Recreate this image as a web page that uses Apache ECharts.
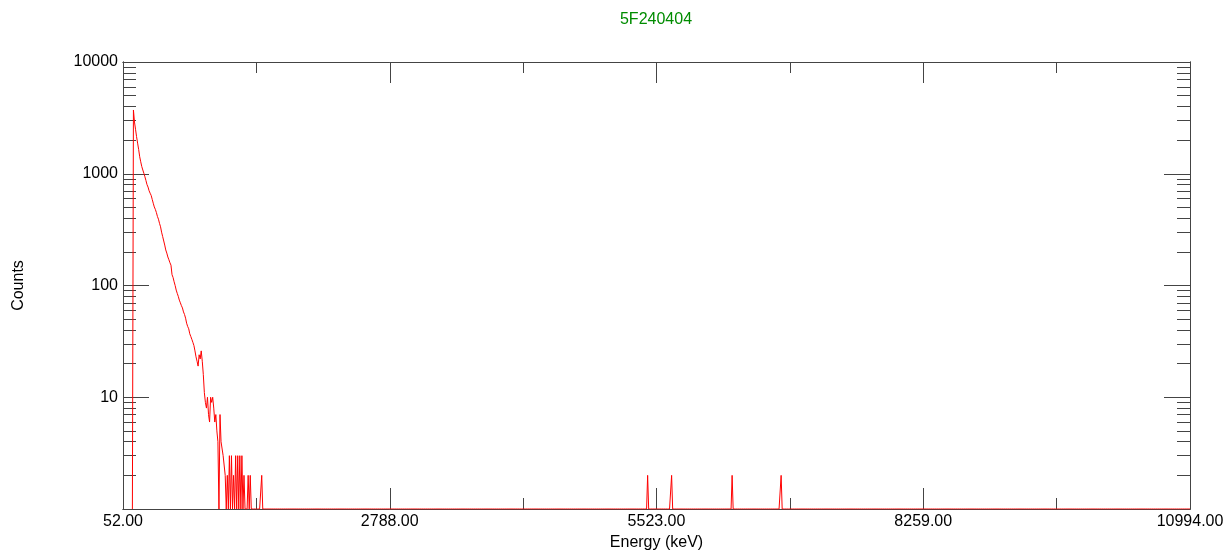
<!DOCTYPE html>
<html>
<head>
<meta charset="utf-8">
<title>5F240404</title>
<script src="https://cdn.jsdelivr.net/npm/echarts@6/dist/echarts.min.js"></script>
<style>
  html, body { margin: 0; padding: 0; background: #ffffff; overflow: hidden; }
  #chart { width: 1230px; height: 552px; }
</style>
</head>
<body>
<div id="chart"></div>
<script>
// Spectrum 5F240404: counts per channel, log-scaled.
const titleText = '5F240404';
const xAxisTitle = 'Energy (keV)';
const yAxisTitle = 'Counts';

// Energy calibration of the 1024-channel spectrum.
const channelCount = 1024;
const energyMin = 52;
const energyMax = 10994;

// Counts of the low-energy continuum, starting at channel 9.
const firstChannel = 9;
const lowCounts = [
  0, 3720, 2900, 2500, 2150, 1880, 1650, 1420, 1280, 1160,
  1080, 1010, 940, 870, 800, 760, 705, 670, 640, 590,
  545, 505, 480, 450, 415, 392, 360, 335, 300, 275,
  270, 230, 208, 195, 180, 170, 160, 152, 125, 118,
  108, 100, 91, 85, 80, 74, 70, 66, 63, 58,
  55, 51, 46, 43, 41, 37, 35, 33, 31, 29,
  26, 23, 21, 19, 24, 22, 26, 21, 16, 11,
  9, 8, 10, 7, 6, 10, 9, 10, 8, 6,
  7, 5, 4, 0, 7, 4, 4, 3, 3, 2,
  1, 2, 1, 3, 1, 3, 1, 2, 0, 3,
  1, 3, 0, 3, 1, 3, 0, 2, 0, 1,
  0, 2, 1, 2, 0, 1, 0, 0, 1, 0,
  0, 1, 0, 0, 2, 0
];

// Isolated high-energy events (channel, counts).
const peakChannels = [503, 526, 584, 631];
const peakCounts = [2, 2, 2, 2];

// Axis ticks.
const xMajorTicks = [52, 2787.5, 5523, 8258.5, 10994];
const xMinorTicks = [1419.75, 4155.25, 6890.75, 9626.25];
const yMajorTicks = [1, 10, 100, 1000, 10000];
const yLabelTicks = [10, 100, 1000, 10000];
const yMinorTicks = [
  2, 3, 4, 5, 6, 7, 8, 9,
  20, 30, 40, 50, 60, 70, 80, 90,
  200, 300, 400, 500, 600, 700, 800, 900,
  2000, 3000, 4000, 5000, 6000, 7000, 8000, 9000
];

// Build [energy, counts] points; empty channels sit on the log floor.
const keVPerChannel = (energyMax - energyMin) / (channelCount - 1);
const points = [];
for (let ch = firstChannel; ch < channelCount; ch++) {
  let c = 0;
  if (ch - firstChannel < lowCounts.length) {
    c = lowCounts[ch - firstChannel];
  } else {
    const k = peakChannels.indexOf(ch);
    if (k >= 0) c = peakCounts[k];
  }
  points.push([energyMin + ch * keVPerChannel, Math.max(c, 1)]);
}

const FONT = "'Liberation Sans', Arial, Helvetica, sans-serif";
const AXIS_COLOR = '#444444';
const lineStyle = { color: AXIS_COLOR, width: 1 };

function xAxisDef(position, ticks, len, withLabels) {
  return {
    type: 'value', position: position, min: energyMin, max: energyMax,
    axisLine: { show: true, onZero: false, lineStyle: lineStyle },
    axisTick: { show: true, inside: true, length: len, customValues: ticks, lineStyle: lineStyle },
    axisLabel: withLabels ? {
      show: true, customValues: xMajorTicks, margin: 5,
      color: '#000', fontFamily: FONT, fontSize: 16,
      formatter: v => Math.round(v).toFixed(2)
    } : { show: false },
    splitLine: { show: false },
    name: withLabels ? xAxisTitle : '',
    nameLocation: 'middle', nameGap: 25,
    nameTextStyle: { color: '#000', fontFamily: FONT, fontSize: 16 }
  };
}

function yAxisDef(position, ticks, len, withLabels) {
  return {
    type: 'log', logBase: 10, position: position, min: 1, max: 10000,
    axisLine: { show: true, onZero: false, lineStyle: lineStyle },
    axisTick: { show: true, inside: true, length: len, customValues: ticks, lineStyle: lineStyle },
    axisLabel: withLabels ? {
      show: true, customValues: yLabelTicks, margin: 5,
      color: '#000', fontFamily: FONT, fontSize: 16,
      formatter: v => String(Math.round(v))
    } : { show: false },
    splitLine: { show: false },
    minorTick: { show: false },
    name: withLabels ? yAxisTitle : '',
    nameLocation: 'middle', nameGap: 96, nameRotate: 90,
    nameTextStyle: { color: '#000', fontFamily: FONT, fontSize: 16 }
  };
}

const chart = echarts.init(document.getElementById('chart'), null, { renderer: 'canvas' });
chart.setOption({
  animation: false,
  backgroundColor: '#ffffff',
  grid: {
    left: 123, top: 62, width: 1067, height: 447,
    containLabel: false, outerBoundsMode: 'none'
  },
  graphic: [{
    type: 'text', x: 656, y: 20,
    style: {
      text: titleText, fill: '#008c00', font: '16px ' + FONT,
      textAlign: 'center', textVerticalAlign: 'middle'
    }
  }],
  xAxis: [
    xAxisDef('bottom', xMajorTicks, 21, true),
    xAxisDef('bottom', xMinorTicks, 11, false),
    xAxisDef('top', xMajorTicks, 21, false),
    xAxisDef('top', xMinorTicks, 11, false)
  ],
  yAxis: [
    yAxisDef('left', yMajorTicks, 26, true),
    yAxisDef('left', yMinorTicks, 13, false),
    yAxisDef('right', yMajorTicks, 26, false),
    yAxisDef('right', yMinorTicks, 13, false)
  ],
  series: [{
    type: 'line',
    xAxisIndex: 0, yAxisIndex: 0,
    data: points,
    showSymbol: false,
    symbol: 'none',
    clip: true,
    sampling: null,
    lineStyle: { color: '#ff0000', width: 1 },
    emphasis: { disabled: true }
  }]
});
</script>
</body>
</html>
